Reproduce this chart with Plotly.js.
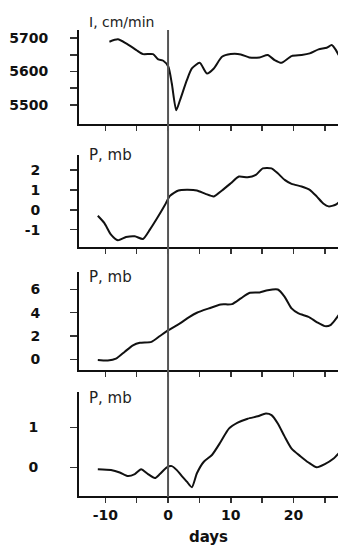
<!DOCTYPE html>
<html>
<head>
<meta charset="utf-8">
<script src="https://cdn.plot.ly/plotly-3.0.1.min.js"></script>
<style>html,body{margin:0;padding:0;background:#fff;}#chart{width:338px;height:546px;}</style>
</head>
<body>
<div id="chart"></div>
<script>
// Panel 1: I, cm/min
const days1 = [-9.35,-8.0,-6.7,-5.05,-4.0,-2.4,-1.56,-0.76,0.05,0.6,1.3,1.9,3.0,3.8,5.05,6.2,7.3,8.6,10.0,11.6,12.95,14.6,15.9,17.0,18.1,19.7,21.3,22.6,24.0,25.3,26.1,26.7,27.2];
const intensity = [5689,5696,5684,5664,5652,5652,5636,5632,5614,5564,5484,5514,5574,5609,5626,5594,5609,5644,5652,5651,5642,5642,5649,5634,5626,5646,5649,5654,5666,5671,5679,5666,5649];
// Panel 2: P, mb
const days2 = [-11.2,-10.15,-9.1,-8.0,-6.7,-5.3,-4.0,-2.9,-1.56,-0.48,0.3,1.66,3.0,4.6,5.97,7.3,8.6,10.0,11.3,12.7,14.0,15.1,16.5,17.5,18.6,19.7,21.3,22.6,23.7,24.8,25.6,26.7,27.2];
const pressA = [-0.3,-0.67,-1.25,-1.53,-1.37,-1.33,-1.47,-1.0,-0.33,0.25,0.7,0.97,1.0,0.97,0.8,0.67,0.97,1.33,1.67,1.63,1.75,2.08,2.08,1.83,1.5,1.3,1.17,1.0,0.67,0.3,0.17,0.25,0.37];
// Panel 3: P, mb
const days3 = [-11.2,-9.6,-8.3,-6.9,-5.6,-4.5,-2.65,-1.3,0.05,1.9,3.3,4.6,6.5,8.4,10.2,11.6,12.95,14.6,15.9,17.5,18.6,19.7,20.8,22.4,23.7,25.0,25.9,26.7,27.2];
const pressB = [-0.06,-0.1,0.05,0.65,1.2,1.42,1.5,2.0,2.5,3.08,3.6,4.0,4.37,4.71,4.74,5.23,5.7,5.74,5.94,6.0,5.37,4.37,3.94,3.65,3.2,2.85,2.94,3.43,3.8];
// Panel 4: P, mb
const days4 = [-11.2,-9.1,-7.7,-6.4,-5.3,-4.3,-3.2,-2.1,-1.3,-0.2,0.6,1.4,2.2,3.0,3.8,4.6,5.7,7.0,8.4,9.7,11.1,12.7,14.3,15.6,16.5,17.5,18.6,19.7,21.1,22.4,23.7,25.0,26.4,27.2];
const pressC = [-0.05,-0.07,-0.13,-0.22,-0.17,-0.05,-0.17,-0.27,-0.17,0.0,0.03,-0.07,-0.22,-0.36,-0.5,-0.15,0.14,0.31,0.64,0.97,1.12,1.22,1.28,1.35,1.31,1.1,0.77,0.47,0.28,0.12,0.0,0.08,0.22,0.35];

const xTickVals = [-10,-5,0,5,10,15,20,25];
const xTickText = ['-10','','0','','10','','20',''];
const panelTitles = ['I, cm/min','P, mb','P, mb','P, mb'];
const xLabel = 'days';

const H = 546;
const frac = px => 1 - px / H;
const lineStyle = {color:'#111', width:2, shape:'spline', smoothing:0.6};
const traces = [
  {x:days1, y:intensity, xaxis:'x', yaxis:'y', mode:'lines', line:lineStyle},
  {x:days2, y:pressA, xaxis:'x2', yaxis:'y2', mode:'lines', line:lineStyle},
  {x:days3, y:pressB, xaxis:'x3', yaxis:'y3', mode:'lines', line:lineStyle},
  {x:days4, y:pressC, xaxis:'x4', yaxis:'y4', mode:'lines', line:lineStyle}
];
const tickFont = {family:'DejaVu Sans', size:14, color:'#111', weight:'bold'};
function xa(anchor){
  return {anchor:anchor, range:[-14.2,27.1], showgrid:false, zeroline:false, showline:true, linecolor:'#111', linewidth:2,
    ticks:'outside', ticklen:5, tickwidth:1.5, tickcolor:'#333', tickmode:'array', tickvals:xTickVals, ticktext:xTickText,
    showticklabels:false, fixedrange:true};
}
function ya(anchor, dom, range, labVals, standoff){
  return {anchor:anchor, domain:dom, range:range, showgrid:false, zeroline:false, showline:true, linecolor:'#111', linewidth:2,
    ticks:'outside', ticklen:7, tickwidth:1.5, tickcolor:'#333', tickmode:'array', tickvals:labVals.vals, ticktext:labVals.text,
    tickfont:tickFont, ticklabelstandoff:standoff, fixedrange:true};
}
const x4 = xa('y4');
x4.showticklabels = true;
x4.tickfont = tickFont;
x4.ticklabelstandoff = 0;
x4.title = {text:xLabel, font:{family:'DejaVu Sans', size:15, color:'#111', weight:'bold'}, standoff:10};

const layout = {
  width:338, height:546, margin:{l:79, r:0, t:0, b:0}, showlegend:false,
  paper_bgcolor:'#fff', plot_bgcolor:'#fff',
  xaxis: xa('y'), xaxis2: Object.assign(xa('y2'),{matches:'x'}), xaxis3: Object.assign(xa('y3'),{matches:'x'}), xaxis4: Object.assign(x4,{matches:'x'}),
  yaxis: ya('x', [frac(124), frac(30)], [5443, 5724],
    {vals:[5500,5550,5600,5650,5700], text:['5500','','5600','','5700']}, 19),
  yaxis2: ya('x2', [frac(247), frac(155)], [-1.87, 2.75],
    {vals:[-1,0,1,2], text:['-1','0','1','2']}, 27),
  yaxis3: ya('x3', [frac(370), frac(272)], [-0.92, 7.5],
    {vals:[0,2,4,6], text:['0','2','4','6']}, 27),
  yaxis4: ya('x4', [frac(496), frac(392)], [-0.72, 1.89],
    {vals:[0,1], text:['0','1']}, 29),
  shapes:[{type:'line', xref:'x', yref:'paper', x0:0, x1:0, y0:frac(497), y1:frac(30), line:{color:'#555', width:2}, layer:'above'}],
  annotations: panelTitles.map((t,i)=>({text:t, xref:'paper', yref:'paper', x:0.03, y:frac([22,155,277,398][i]), xanchor:'left', yanchor:'middle', showarrow:false,
    font:{family:'DejaVu Sans', size:[14,15,15,15][i], color:'#222'}}))
};
Plotly.newPlot('chart', traces, layout, {staticPlot:true, displayModeBar:false});
</script>
</body>
</html>
